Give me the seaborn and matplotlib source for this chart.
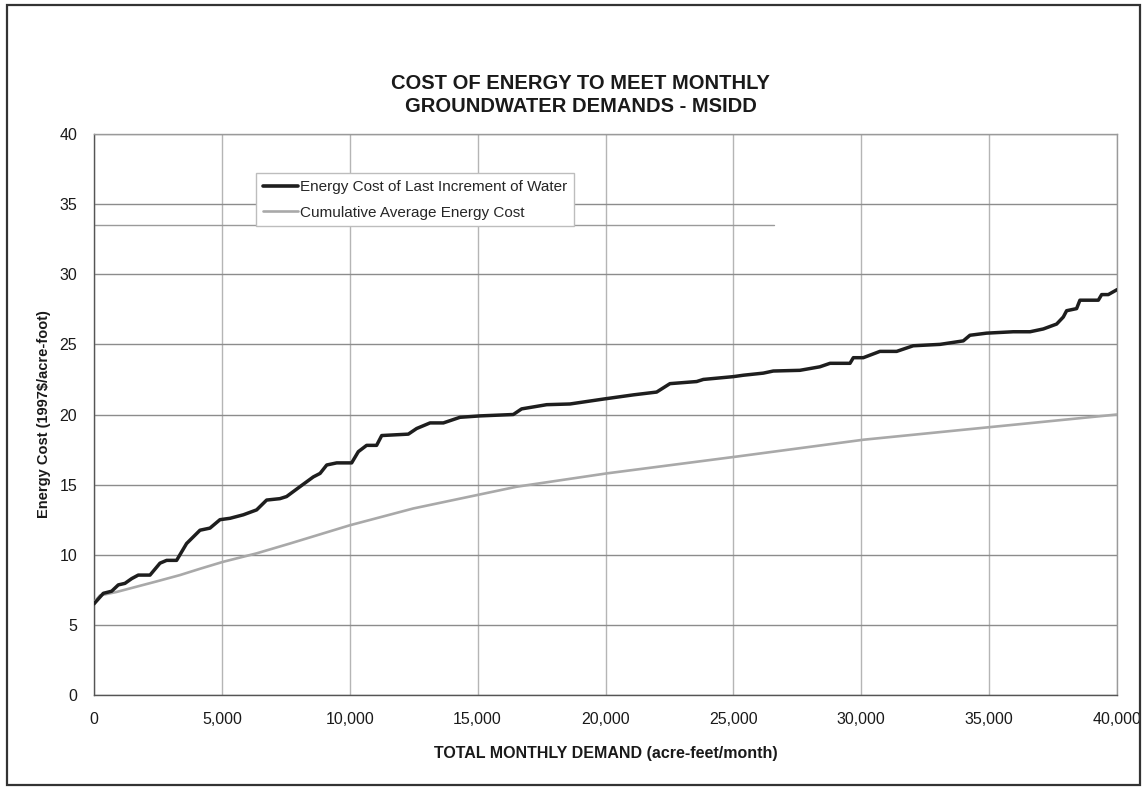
import matplotlib
matplotlib.use("Agg")
import matplotlib.pyplot as plt
import seaborn as sns
import pandas as pd
from matplotlib.patches import Rectangle
from matplotlib.ticker import FuncFormatter

# ---- data ----
last_x = [0, 365, 690, 950, 1210, 1475, 1730, 2190, 2580, 2840, 3230, 3620, 4145, 4535,
          4925, 5320, 5840, 6360, 6750, 7270, 7530, 8050, 8575, 8840, 9100, 9490, 10075,
          10335, 10660, 11050, 11250, 12290, 12615, 13140, 13660, 14310, 15090, 15875,
          16395, 16720, 17700, 18610, 19915, 21090, 22000, 22520, 23565, 23825, 25000,
          25390, 26170, 26560, 27600, 28380, 28780, 29560, 29690, 30080, 30730, 31385,
          32030, 33080, 33990, 34250, 34900, 35945, 36600, 37120, 37640, 37900, 38030,
          38420, 38550, 39270, 39400, 39660, 40000]
last_cost = [6.5, 7.25, 7.4, 7.85, 7.96, 8.3, 8.55, 8.55, 9.4, 9.6, 9.6, 10.8, 11.75, 11.9,
             12.5, 12.6, 12.85, 13.2, 13.9, 14.0, 14.15, 14.85, 15.55, 15.8, 16.4, 16.55,
             16.55, 17.35, 17.8, 17.8, 18.5, 18.6, 19.0, 19.4, 19.4, 19.8, 19.9, 19.96,
             20.0, 20.4, 20.7, 20.75, 21.1, 21.4, 21.6, 22.2, 22.35, 22.5, 22.7, 22.8,
             22.95, 23.1, 23.15, 23.4, 23.65, 23.65, 24.05, 24.05, 24.5, 24.5, 24.9, 25.0,
             25.25, 25.65, 25.8, 25.9, 25.9, 26.1, 26.45, 26.95, 27.4, 27.55, 28.15, 28.15,
             28.55, 28.55, 28.9]
avg_x = [0, 235, 890, 2450, 3360, 4145, 5055, 6360, 7660, 10000, 12485, 15090, 16525,
         20045, 25130, 30080, 35030, 40000]
avg_cost = [6.6, 7.1, 7.35, 8.1, 8.55, 9.0, 9.5, 10.1, 10.8, 12.1, 13.3, 14.3, 14.85,
            15.8, 17.0, 18.2, 19.1, 20.0]

series_names = ["Energy Cost of Last Increment of Water", "Cumulative Average Energy Cost"]
x_ticks = [0, 5000, 10000, 15000, 20000, 25000, 30000, 35000, 40000]
y_ticks = [0, 5, 10, 15, 20, 25, 30, 35, 40]

title = "COST OF ENERGY TO MEET MONTHLY\nGROUNDWATER DEMANDS - MSIDD"
x_label = "TOTAL MONTHLY DEMAND (acre-feet/month)"
y_label = "Energy Cost (1997$/acre-foot)"

df = pd.concat([
    pd.DataFrame({"demand": last_x, "cost": last_cost, "series": series_names[0]}),
    pd.DataFrame({"demand": avg_x, "cost": avg_cost, "series": series_names[1]}),
], ignore_index=True)

# ---- style ----
sns.set_theme(style="white")
plt.rcParams["font.family"] = ["Liberation Sans", "DejaVu Sans"]

fig = plt.figure(figsize=(11.45, 7.89), dpi=100)
ax = fig.add_axes([94 / 1145, 1 - 695 / 789, 1023 / 1145, 561 / 789])

palette = {series_names[0]: "#1e1e1e", series_names[1]: "#a9a9a9"}
sns.lineplot(data=df, x="demand", y="cost", hue="series", palette=palette,
             estimator=None, sort=False, ax=ax, legend=True)
for line in ax.get_lines():
    if line.get_color() == "#1e1e1e":
        line.set_linewidth(2.5)
        line.set_zorder(4)
    else:
        line.set_linewidth(1.9)
        line.set_zorder(3)

ax.set_xlim(0, 40000)
ax.set_ylim(0, 40)
ax.set_xticks(x_ticks)
ax.set_yticks(y_ticks)
ax.xaxis.set_major_formatter(FuncFormatter(lambda v, p: f"{int(v):,}"))
ax.grid(True, axis="y", color="#8c8c8c", linewidth=1.0)
ax.grid(True, axis="x", color="#b5b5b5", linewidth=1.0)
ax.set_axisbelow(True)
# faint scan line under the legend box
ax.axhline(33.5, xmin=0, xmax=0.665, color="#9a9a9a", linewidth=1.0, zorder=1)

for s in ["left", "bottom"]:
    ax.spines[s].set_color("#555555")
    ax.spines[s].set_linewidth(1.0)
for s in ["top", "right"]:
    ax.spines[s].set_color("#9a9a9a")
    ax.spines[s].set_linewidth(1.0)

ax.tick_params(axis="both", labelsize=11.5, colors="#1a1a1a", length=4, width=0.8)
ax.tick_params(axis="x", pad=12, length=0)
ax.tick_params(axis="y", pad=8, direction="out", color="#777777")

ax.set_xlabel(x_label, fontsize=11.5, fontweight="bold", color="#1a1a1a", labelpad=14)
ax.set_ylabel(y_label, fontsize=10.5, fontweight="bold", color="#1a1a1a", labelpad=6)

fig.text(0.507, 1 - 95 / 789, title, ha="center", va="center", fontsize=14.5,
         fontweight="bold", color="#1a1a1a", linespacing=1.3)

leg = ax.legend(loc="upper left", bbox_to_anchor=(0.158, 0.93), borderaxespad=0,
                frameon=True, fancybox=False, fontsize=11, handlelength=2.3,
                handletextpad=0.15, borderpad=0.45, labelspacing=0.75)
leg.get_frame().set_edgecolor("#bdbdbd")
leg.get_frame().set_linewidth(1.0)
leg.get_frame().set_facecolor("white")
leg.get_frame().set_alpha(1.0)
for h in leg.get_lines():
    if h.get_color() == "#1e1e1e":
        h.set_linewidth(2.6)
    else:
        h.set_linewidth(1.9)

# figure border
fig.patches.append(Rectangle((7 / 1145, 4 / 789), 1133 / 1145, 780 / 789,
                             transform=fig.transFigure, fill=False,
                             edgecolor="#333333", linewidth=1.6))

fig.savefig("out.png", dpi=100)
